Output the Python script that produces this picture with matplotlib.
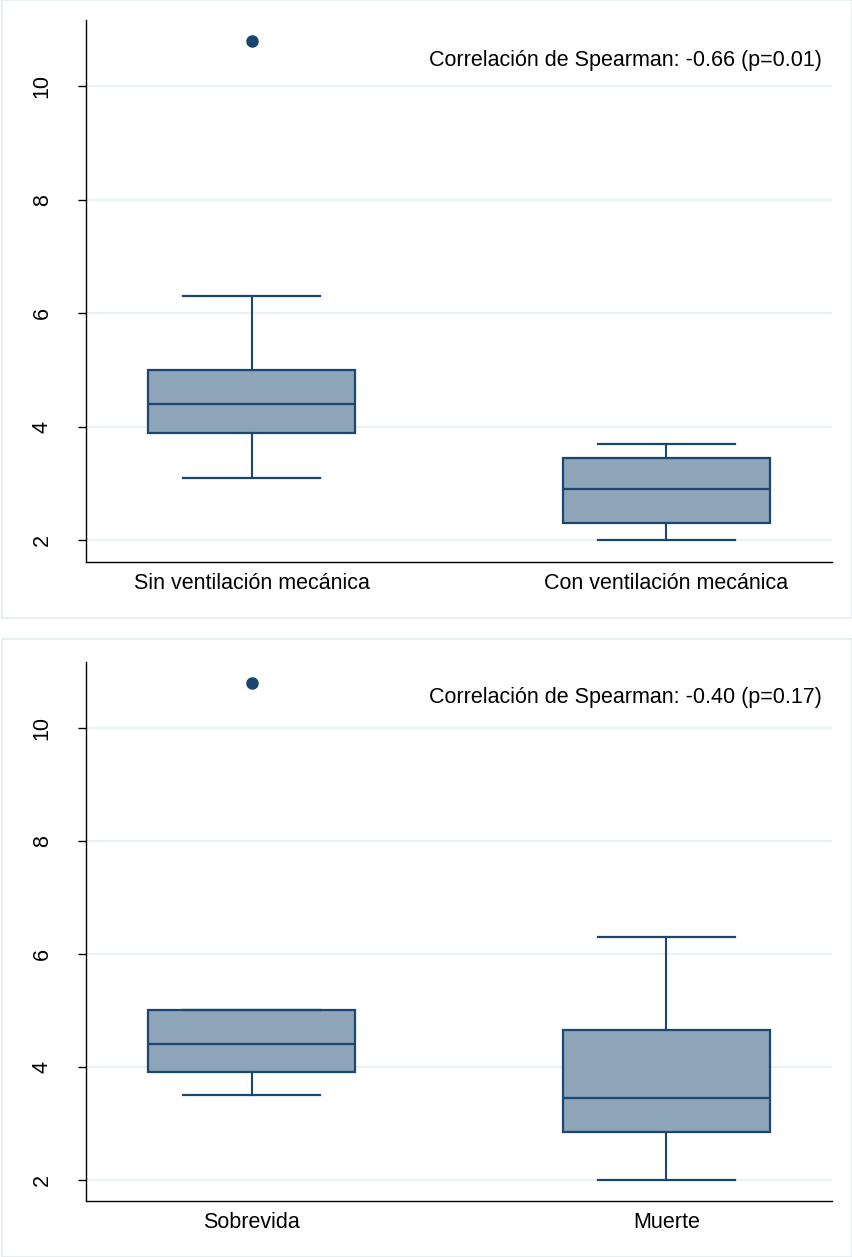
import matplotlib
matplotlib.use("Agg")
import matplotlib.pyplot as plt
from matplotlib.patches import Rectangle

plt.rcParams['font.family'] = ['Liberation Sans', 'DejaVu Sans']

# panel 1: ventilacion mecanica
labels_vm = ["Sin ventilación mecánica", "Con ventilación mecánica"]
whislo_vm = [3.1, 2.0]
q1_vm = [3.9, 2.3]
med_vm = [4.4, 2.9]
q3_vm = [5.0, 3.45]
whishi_vm = [6.3, 3.7]
fliers_vm = [[10.8], []]
text_vm = "Correlación de Spearman: -0.66 (p=0.01)"

# panel 2: sobrevida / muerte
labels_m = ["Sobrevida", "Muerte"]
whislo_m = [3.5, 2.0]
q1_m = [3.9, 2.85]
med_m = [4.4, 3.45]
q3_m = [5.0, 4.65]
whishi_m = [5.0, 6.3]
fliers_m = [[10.8], []]
text_m = "Correlación de Spearman: -0.40 (p=0.17)"

yticks = [2, 4, 6, 8, 10]

navy = "#1a476f"
fill = "#8da4b9"
grid_c = "#eaf2f3"
frame_c = "#e4ecee"
fs = 15.5


def make_stats(labels, lo, q1, med, q3, hi, fl):
    stats = []
    for i in range(len(labels)):
        stats.append(dict(label=labels[i], whislo=lo[i], q1=q1[i], med=med[i],
                          q3=q3[i], whishi=hi[i], fliers=fl[i]))
    return stats


def draw_panel(ax, stats, txt, ty):
    ax.bxp(stats, positions=[1, 2], widths=0.5, capwidths=0.33,
           patch_artist=True, showfliers=True,
           boxprops=dict(facecolor=fill, edgecolor=navy, linewidth=1.6),
           medianprops=dict(color=navy, linewidth=1.6),
           whiskerprops=dict(color=navy, linewidth=1.5),
           capprops=dict(color=navy, linewidth=1.6),
           flierprops=dict(marker='o', markerfacecolor=navy, markeredgecolor=navy,
                           markersize=8))
    ax.set_xlim(0.6, 2.4)
    ax.set_ylim(1.62, 11.17)
    ax.set_yticks(yticks)
    for y in yticks:
        ax.axhline(y, color=grid_c, linewidth=1.6, zorder=0)
    ax.tick_params(axis='y', labelrotation=90, labelsize=fs, length=6,
                   width=1, pad=18)
    for lab in ax.get_yticklabels():
        lab.set_verticalalignment('center')
    ax.tick_params(axis='x', length=0, labelsize=fs, pad=8)
    ax.spines['top'].set_visible(False)
    ax.spines['right'].set_visible(False)
    ax.spines['left'].set_linewidth(1)
    ax.spines['bottom'].set_linewidth(1)
    ax.text(0.986, ty, txt, transform=ax.transAxes, ha='right', va='center',
            fontsize=fs)


W, H = 853, 1257
fig = plt.figure(figsize=(W / 100, H / 100), dpi=100)

# light frames around each panel
fig.add_artist(Rectangle((2 / W, 1 - 618 / H), 850 / W, 618 / H,
                         transform=fig.transFigure, fill=False,
                         edgecolor=frame_c, linewidth=1.2))
fig.add_artist(Rectangle((2 / W, 0), 850 / W, 1 - 639 / H,
                         transform=fig.transFigure, fill=False,
                         edgecolor=frame_c, linewidth=1.2))

ax1 = fig.add_axes([86 / W, 1 - 562 / H, 746 / W, 542 / H])
ax2 = fig.add_axes([86 / W, 1 - 1201 / H, 746 / W, 539 / H])

draw_panel(ax1, make_stats(labels_vm, whislo_vm, q1_vm, med_vm, q3_vm,
                           whishi_vm, fliers_vm), text_vm, 0.926)
draw_panel(ax2, make_stats(labels_m, whislo_m, q1_m, med_m, q3_m,
                           whishi_m, fliers_m), text_m, 0.935)

fig.savefig("out.png", dpi=100)
